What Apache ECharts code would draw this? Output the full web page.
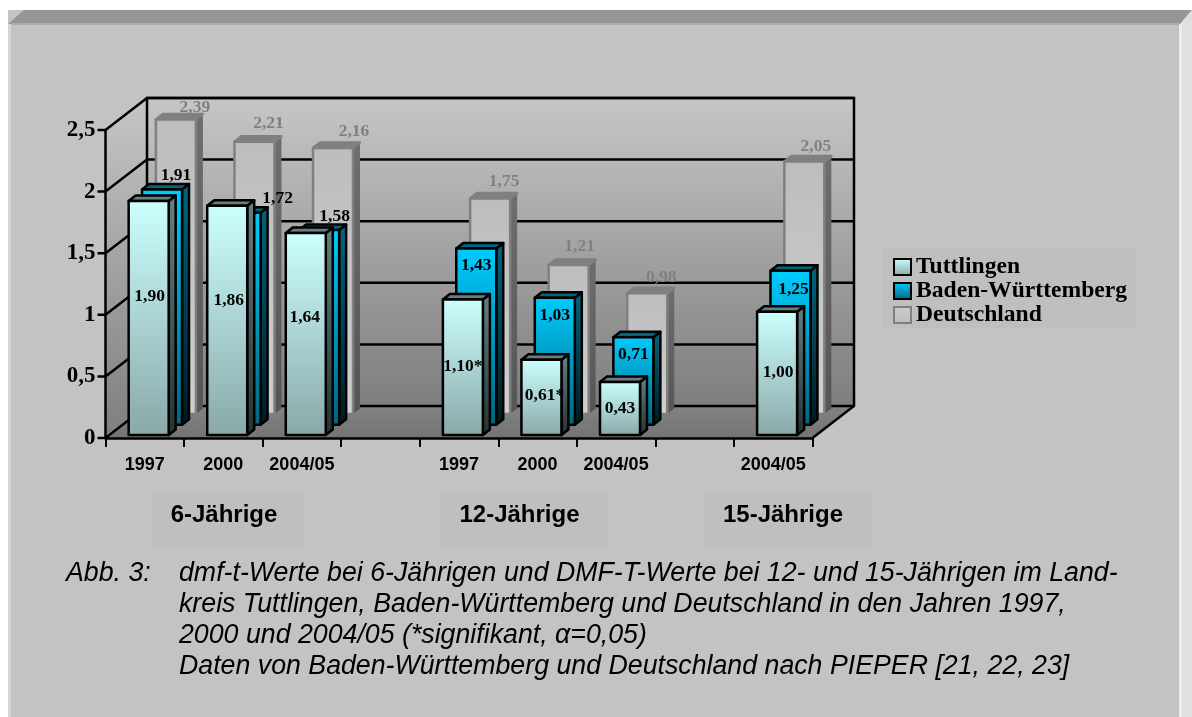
<!DOCTYPE html>
<html lang="de">
<head>
    <meta charset="UTF-8">
    <title>dmf-t / DMF-T</title>
    <script src="https://cdn.jsdelivr.net/npm/echarts@6/dist/echarts.min.js"></script>
    <style>
        html, body { margin: 0; padding: 0; background: #fff; }
        #chart { width: 1192px; height: 717px; }
    </style>
</head>
<body>
<div id="chart"></div>

<script type="text/javascript">
    var categories = ['1997', '2000', '2004/05', '', '1997', '2000', '2004/05', '', '2004/05'];
    var barSlots = [0, 1, 2, 4, 5, 6, 8];
    var yTicks = [0, 0.5, 1, 1.5, 2, 2.5];

    var tuttlingen = [1.90, 1.86, 1.64, 1.10, 0.61, 0.43, 1.00];
    var badenWuerttemberg = [1.91, 1.72, 1.58, 1.43, 1.03, 0.71, 1.25];
    var deutschland = [2.39, 2.21, 2.16, 1.75, 1.21, 0.98, 2.05];

    var tuttlingenLabels = ['1,90', '1,86', '1,64', '1,10*', '0,61*', '0,43', '1,00'];
    var badenLabels = ['1,91', '1,72', '1,58', '1,43', '1,03', '0,71', '1,25'];
    var deutschlandLabels = ['2,39', '2,21', '2,16', '1,75', '1,21', '0,98', '2,05'];

    var groupNames = ['6-Jährige', '12-Jährige', '15-Jährige'];
    var captionLines = [
        'dmf-t-Werte bei 6-Jährigen und DMF-T-Werte bei 12- und 15-Jährigen im Land-',
        'kreis Tuttlingen, Baden-Württemberg und Deutschland in den Jahren 1997,',
        '2000 und 2004/05 (*signifikant, α=0,05)',
        'Daten von Baden-Württemberg und Deutschland nach PIEPER [21, 22, 23]'
    ];

    // label position relative to the top of the front face, one pair per bar
    var tuttlingenNudge = [[1, 96], [1.5, 95], [-1, 85], [0, 67.5], [3, 36], [0, 26], [1, 61]];
    var badenNudge = [[14, -14], [37, -14], [15.5, -14], [0, 16.5], [0, 18], [0, 17], [3, 19]];
    var deutschlandNudge = [[19, -12.5], [14, -18], [21, -16], [14, -17], [11, -18], [14, -16], [11.5, -15]];

    // pseudo 3D layout
    var WALL_DX = 41.5, WALL_DY = 32;
    var BAR_W = 40, BAR_DX = 7, BAR_DY = 5.5;
    var SERIF = '"Liberation Serif", serif';

    function grad(top, bottom) {
        return new echarts.graphic.LinearGradient(0, 0, 0, 1, [
            { offset: 0, color: top },
            { offset: 1, color: bottom }
        ]);
    }

    var chart = echarts.init(document.getElementById('chart'));

    function barSeries(name, values, labels, nudge, opt) {
        return {
            name: name,
            type: 'custom',
            z: opt.z,
            silent: true,
            data: values.map(function (v, i) { return [barSlots[i], v, i]; }),
            encode: { x: 0, y: 1 },
            renderItem: function (params, api) {
                var i = api.value(2);
                var shiftX = opt.depth * WALL_DX / WALL_DY;
                var top = api.coord([api.value(0), api.value(1)]);
                var base = api.coord([api.value(0), 0]);
                var l = base[0] - BAR_W / 2 + shiftX, r = l + BAR_W;
                var b = base[1] - opt.depth, t = top[1] - opt.depth;
                var line = { stroke: opt.border, lineWidth: 2.5, lineJoin: 'round' };
                return {
                    type: 'group',
                    children: [
                        {
                            type: 'polygon',
                            shape: { points: [[r, t], [r + BAR_DX, t - BAR_DY], [r + BAR_DX, b - BAR_DY], [r, b]] },
                            style: Object.assign({ fill: grad(opt.sideTop, opt.sideBottom) }, opt.sideLine ? line : { stroke: opt.sideBottom, lineWidth: 0 })
                        },
                        {
                            type: 'polygon',
                            shape: { points: [[l, t], [l + BAR_DX, t - BAR_DY], [r + BAR_DX, t - BAR_DY], [r, t]] },
                            style: Object.assign({ fill: opt.topFill }, line)
                        },
                        {
                            type: 'rect',
                            shape: { x: l, y: t, width: BAR_W, height: b - t },
                            style: Object.assign({ fill: grad(opt.faceTop, opt.faceBottom) }, line)
                        },
                        {
                            type: 'text',
                            style: {
                                x: (l + r) / 2 + nudge[i][0],
                                y: t + nudge[i][1],
                                text: labels[i],
                                align: 'center',
                                verticalAlign: 'middle',
                                font: 'bold 17.5px ' + SERIF,
                                fill: opt.labelColor
                            }
                        }
                    ]
                };
            }
        };
    }

    var frameSeries = {
        type: 'custom',
        z: 1,
        silent: true,
        data: [[0, 0]],
        encode: { x: 0, y: 1 },
        renderItem: function (params, api) {
            var c = params.coordSys;
            var x0 = c.x, x1 = c.x + c.width;
            var y0 = api.coord([0, yTicks[0]])[1];
            var yTop = api.coord([0, yTicks[yTicks.length - 1]])[1];
            var black = { stroke: '#000', lineWidth: 2.5 };
            var kids = [
                { // side wall
                    type: 'polygon',
                    shape: { points: [[x0, yTop], [x0 + WALL_DX, yTop - WALL_DY], [x0 + WALL_DX, y0 - WALL_DY], [x0, y0]] },
                    style: { fill: grad('#c6c6c6', '#7e7e7e') }
                },
                { // back wall
                    type: 'rect',
                    shape: { x: x0 + WALL_DX, y: yTop - WALL_DY, width: c.width, height: y0 - yTop },
                    style: { fill: grad('#c6c6c6', '#7e7e7e') }
                },
                { // floor
                    type: 'polygon',
                    shape: { points: [[x0, y0], [x0 + WALL_DX, y0 - WALL_DY], [x1 + WALL_DX, y0 - WALL_DY], [x1, y0]] },
                    style: { fill: grad('#828282', '#747474') }
                },
                { type: 'polyline', shape: { points: [[x0 + WALL_DX, y0 - WALL_DY], [x0 + WALL_DX, yTop - WALL_DY], [x1 + WALL_DX, yTop - WALL_DY], [x1 + WALL_DX, y0 - WALL_DY], [x1, y0]] }, style: Object.assign({ fill: 'none' }, black) }
            ];
            yTicks.forEach(function (v) {
                var y = api.coord([0, v])[1];
                // tick, diagonal over the side wall, gridline on the back wall
                kids.push({ type: 'polyline', shape: { points: [[x0 - 8, y], [x0, y], [x0 + WALL_DX, y - WALL_DY], [x1 + WALL_DX, y - WALL_DY]] }, style: Object.assign({ fill: 'none' }, black) });
            });
            return { type: 'group', children: kids };
        }
    };

    // panel, bevels, group boxes and caption are plain graphic elements
    var graphics = [
        { type: 'rect', shape: { x: 8, y: 10, width: 1184, height: 707 }, style: { fill: '#c3c3c3' } },
        { type: 'polygon', shape: { points: [[8, 24], [24, 10], [1192, 10], [1180, 24]] }, style: { fill: '#969696' } },
        { type: 'rect', shape: { x: 11, y: 23, width: 1168, height: 2 }, style: { fill: '#ababab' } },
        { type: 'rect', shape: { x: 8, y: 24, width: 3, height: 693 }, style: { fill: '#d4d4d4' } },
        { type: 'polygon', shape: { points: [[1180, 24], [1192, 10], [1192, 717], [1180, 717]] }, style: { fill: '#e0e0e0' } },
        { type: 'rect', shape: { x: 1179, y: 24, width: 3, height: 693 }, style: { fill: '#ececec' } }
    ];
    var groupBoxes = [[152, 153, 224], [440, 169, 519.5], [704, 169, 783]];
    groupNames.forEach(function (name, i) {
        graphics.push({ type: 'rect', shape: { x: groupBoxes[i][0], y: 490, width: groupBoxes[i][1], height: 58 }, style: { fill: '#bfbfbf' } });
        graphics.push({ type: 'text', style: { x: groupBoxes[i][2], y: 515, text: name, align: 'center', verticalAlign: 'middle', font: 'bold 24px "Liberation Sans", Arial, sans-serif', fill: '#000' } });
    });
    var CAPTION_FONT = 'italic 26.74px "Liberation Sans", Arial, sans-serif';
    graphics.push({ type: 'text', style: { x: 66, y: 573.5, text: 'Abb. 3:', verticalAlign: 'middle', font: CAPTION_FONT, fill: '#000' } });
    captionLines.forEach(function (text, i) {
        graphics.push({ type: 'text', style: { x: 179, y: 573.5 + i * 31, text: text, verticalAlign: 'middle', font: CAPTION_FONT, fill: '#000' } });
    });

    chart.setOption({
        animation: false,
        backgroundColor: '#fff',
        graphic: { elements: graphics },
        grid: { left: 105.5, top: 130, width: 707, height: 308, containLabel: false },
        xAxis: {
            type: 'category',
            data: categories,
            z: 2,
            axisLine: { lineStyle: { color: '#000', width: 2.5 } },
            axisTick: { show: true, length: 9, alignWithLabel: false, interval: 0, lineStyle: { color: '#000', width: 2 } },
            axisLabel: {
                interval: 0,
                margin: 18,
                color: '#000',
                fontFamily: '"Liberation Sans", sans-serif',
                fontWeight: 'bold',
                fontSize: 18
            }
        },
        yAxis: {
            type: 'value',
            min: 0,
            max: 2.5,
            interval: 0.5,
            z: 2,
            splitLine: { show: false },
            axisLine: { show: true, lineStyle: { color: '#000', width: 2.5 } },
            axisTick: { show: false },
            axisLabel: {
                margin: 10,
                color: '#000',
                fontFamily: SERIF,
                fontWeight: 'bold',
                fontSize: 23,
                formatter: function (v) { return String(v).replace('.', ','); }
            }
        },
        legend: {
            orient: 'vertical',
            left: 882,
            top: 249,
            padding: [6, 9, 2, 11],
            itemGap: 0,
            itemWidth: 17,
            itemHeight: 16,
            selectedMode: false,
            backgroundColor: '#bfbfbf',
            textStyle: { fontFamily: SERIF, fontWeight: 'bold', fontSize: 23.6, color: '#000' },
            data: [
                { name: 'Tuttlingen', icon: 'rect', itemStyle: { color: grad('#ccffff', '#8aa8a8'), borderColor: '#000', borderWidth: 2 } },
                { name: 'Baden-Württemberg', icon: 'rect', itemStyle: { color: grad('#00ccff', '#006680'), borderColor: '#000', borderWidth: 2 } },
                { name: 'Deutschland', icon: 'rect', itemStyle: { color: grad('#cccccc', '#bdbdbd'), borderColor: '#808080', borderWidth: 2 } }
            ]
        },
        series: [
            frameSeries,
            barSeries('Deutschland', deutschland, deutschlandLabels, deutschlandNudge, {
                z: 3, depth: 24, border: '#808080', sideLine: false,
                faceTop: '#bdbdbd', faceBottom: '#cfcfcf',
                sideTop: '#6e6e6e', sideBottom: '#555555', topFill: '#808080', labelColor: '#808080'
            }),
            barSeries('Baden-Württemberg', badenWuerttemberg, badenLabels, badenNudge, {
                z: 4, depth: 13.3, border: '#000', sideLine: true,
                faceTop: '#00ccff', faceBottom: '#006680',
                sideTop: '#006680', sideBottom: '#001a22', topFill: '#006680', labelColor: '#000'
            }),
            barSeries('Tuttlingen', tuttlingen, tuttlingenLabels, tuttlingenNudge, {
                z: 5, depth: 3, border: '#000', sideLine: true,
                faceTop: '#ccffff', faceBottom: '#8aa8a8',
                sideTop: '#668080', sideBottom: '#223333', topFill: '#668080', labelColor: '#000'
            })
        ]
    });
</script>
</body>
</html>
